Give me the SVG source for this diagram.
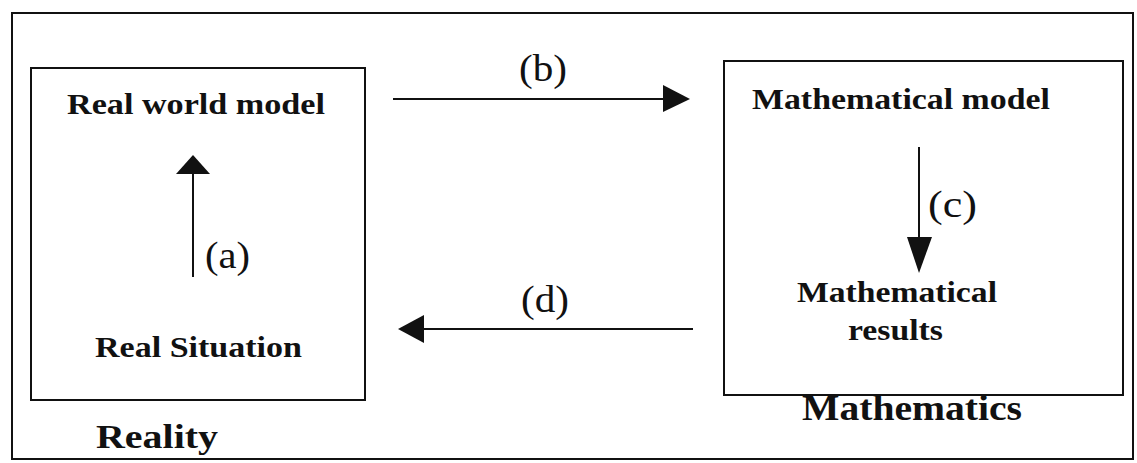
<svg xmlns="http://www.w3.org/2000/svg" width="1137" height="463" viewBox="0 0 1137 463">
<style>
.frame{fill:none;stroke:#111;stroke-width:2}
.lbl{font-family:"Liberation Serif","Times New Roman",serif;font-weight:bold;fill:#111}
.tag{font-family:"Liberation Serif","Times New Roman",serif;fill:#111}
.conn{stroke:#111;stroke-width:2;fill:none}
</style>
<rect width="1137" height="463" fill="#fff"/>
<rect class="frame" x="12" y="13" width="1121" height="446"/>
<g id="reality">
<rect class="frame" x="31" y="68" width="334" height="332"/>
<text class="lbl" x="96" y="448" font-size="34" textLength="122" lengthAdjust="spacingAndGlyphs">Reality</text>
</g>
<g id="real-world-model">
<text class="lbl" x="67" y="114" font-size="29" textLength="258" lengthAdjust="spacingAndGlyphs">Real world model</text>
</g>
<g id="real-situation">
<text class="lbl" x="95" y="357" font-size="29" textLength="207" lengthAdjust="spacingAndGlyphs">Real Situation</text>
</g>
<g id="mathematics">
<rect class="frame" x="724" y="61" width="399" height="334"/>
<text class="lbl" x="802" y="420" font-size="36" textLength="220" lengthAdjust="spacingAndGlyphs">Mathematics</text>
</g>
<g id="mathematical-model">
<text class="lbl" x="752" y="109" font-size="30" textLength="298" lengthAdjust="spacingAndGlyphs">Mathematical model</text>
</g>
<g id="mathematical-results">
<text class="lbl" x="797" y="302" font-size="30" textLength="200" lengthAdjust="spacingAndGlyphs">Mathematical</text>
<text class="lbl" x="848" y="340" font-size="30" textLength="95" lengthAdjust="spacingAndGlyphs">results</text>
</g>
<g id="connectors">
<line class="conn" x1="193" y1="277" x2="193" y2="174"/>
<path d="M176,174 L210,174 L193,155 z" fill="#111"/>
<text class="tag" x="205" y="268" font-size="38" textLength="45" lengthAdjust="spacingAndGlyphs">(a)</text>
<line class="conn" x1="393" y1="99" x2="664" y2="99"/>
<path d="M663,85 L690,99 L663,112 z" fill="#111"/>
<text class="tag" x="519" y="81" font-size="38" textLength="48" lengthAdjust="spacingAndGlyphs">(b)</text>
<line class="conn" x1="919" y1="147" x2="919" y2="238"/>
<path d="M907,237 L932,237 L919,273 z" fill="#111"/>
<text class="tag" x="928" y="217" font-size="38" textLength="49" lengthAdjust="spacingAndGlyphs">(c)</text>
<line class="conn" x1="693" y1="329" x2="423" y2="329"/>
<path d="M424,315 L398,329 L424,343 z" fill="#111"/>
<text class="tag" x="521" y="312" font-size="38" textLength="48" lengthAdjust="spacingAndGlyphs">(d)</text>
</g>
</svg>
